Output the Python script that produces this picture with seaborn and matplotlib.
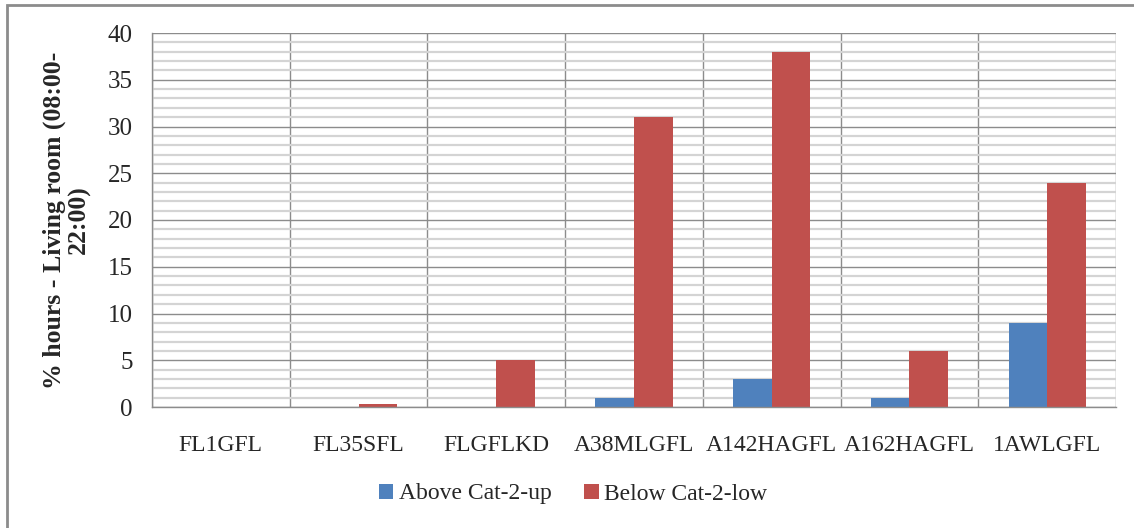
import numpy as np
import pandas as pd
import matplotlib
matplotlib.use('Agg')
from matplotlib import pyplot as plt
from matplotlib.patches import Rectangle
from matplotlib.ticker import MultipleLocator, FixedLocator
import seaborn as sns

# data
sites = ['FL1GFL', 'FL35SFL', 'FLGFLKD', 'A38MLGFL', 'A142HAGFL', 'A162HAGFL', '1AWLGFL']
above = [0, 0, 0, 1, 3, 1, 9]
below = [0, 0.3, 5, 31, 38, 6, 24]
series = ['Above Cat-2-up', 'Below Cat-2-low']

df = pd.DataFrame({
    'site': sites * 2,
    'value': above + below,
    'series': [series[0]] * len(sites) + [series[1]] * len(sites),
})

sns.set_style('white')
plt.rcParams['font.family'] = ['Liberation Serif', 'DejaVu Serif']

fig = plt.figure(figsize=(11.34, 5.28), dpi=100)
ax = fig.add_axes([152/1134, 1 - 407/528, (1116-152)/1134, (407-33)/528])

sns.barplot(data=df, x='site', y='value', hue='series', order=sites,
            hue_order=series, palette=['#4F81BD', '#C0504D'],
            width=0.56, gap=0, saturation=1, linewidth=0, ax=ax, legend=True)

ax.set_xlim(-0.5, len(sites) - 0.5)
ax.set_ylim(0, 40)

# gridlines: light minor every 1, darker major every 5, vertical at boundaries
ax.yaxis.set_major_locator(MultipleLocator(5))
ax.yaxis.set_minor_locator(MultipleLocator(1))
ax.xaxis.set_minor_locator(FixedLocator(np.arange(-0.5, len(sites), 1)))
ax.grid(which='minor', axis='y', color='#d4d4d4', linewidth=1.6)
ax.grid(which='major', axis='y', color='#8c8c8c', linewidth=1.0)
ax.grid(which='minor', axis='x', color='#8c8c8c', linewidth=1.0)
ax.set_axisbelow(True)

ax.tick_params(axis='x', which='major', length=0, pad=20, labelsize=17)
ax.tick_params(axis='x', which='minor', length=8, width=1, color='#8c8c8c', direction='out')
ax.tick_params(axis='y', which='major', length=6, width=1, color='#8c8c8c', direction='out',
               labelsize=18, pad=8)
ax.tick_params(axis='y', which='minor', length=0)

for s in ['top', 'right']:
    ax.spines[s].set_visible(False)
for s in ['left', 'bottom']:
    ax.spines[s].set_color('#8c8c8c')
    ax.spines[s].set_linewidth(1.0)

ax.set_xlabel('')
ax.set_ylabel('% hours - Living room (08:00-\n22:00)', fontsize=18.5, fontweight='bold',
              linespacing=1.1, labelpad=12)

handles, labels = ax.get_legend_handles_labels()
ax.get_legend().remove()
fig.legend(handles, labels, loc='center', bbox_to_anchor=(573/1134, 1 - 494/528),
           ncol=2, frameon=False, fontsize=17, handlelength=0.6, handleheight=0.6,
           handletextpad=0.25, columnspacing=1.4)

# outer frame of the chart area
fig.patches.append(Rectangle((7/1134, -0.1), 1.2, 1 - 5/528 + 0.1, transform=fig.transFigure,
                             fill=False, edgecolor='#8c8c8c', linewidth=2))

fig.savefig('out.png', dpi=100)
